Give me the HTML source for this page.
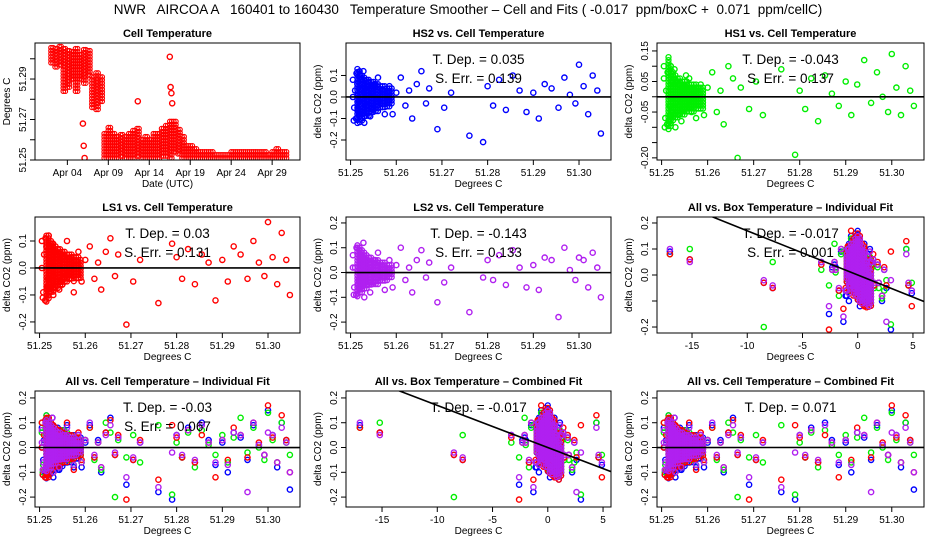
<!DOCTYPE html>
<html><head><meta charset="utf-8"><style>
html,body{margin:0;padding:0;background:#fff;}
svg{display:block;font-family:"Liberation Sans",sans-serif;}
</style></head><body>
<svg id="chart" width="936" height="540" viewBox="0 0 936 540" xmlns="http://www.w3.org/2000/svg">
<rect width="936" height="540" fill="#fff"/>
<text x="468" y="14" text-anchor="middle" font-size="13.5" xml:space="preserve">NWR   AIRCOA A   160401 to 160430   Temperature Smoother – Cell and Fits ( -0.017  ppm/boxC +  0.071  ppm/cellC)</text>
</svg>
<script>
// ---- Panel 1: cell temperature time series (half-day bins: min/max) ----
const binDay=[2,2.5,3,3.5,4,4.5,5,5.5,6,6.5,7,7.5,8,8.5,9,9.5,10,10.5,11,11.5,12,12.5,13,13.5,14,14.5,15,15.5,16,16.5,17,17.5,18,18.5,19,19.5,20,20.5,21,21.5,22,22.5,23,23.5,24,24.5,25,25.5,26,26.5,27,27.5,28,28.5,29,29.5,30,30.5];
const binMin=[51.298,51.296,51.297,51.284,51.286,51.290,51.284,51.290,51.288,51.292,51.276,51.275,51.279,51.251,51.251,51.251,51.251,51.252,51.251,51.251,51.251,51.252,51.251,51.251,51.251,51.251,51.251,51.252,51.252,51.251,51.254,51.253,51.251,51.251,51.251,51.251,51.251,51.251,51.251,51.251,51.251,51.251,51.251,51.251,51.251,51.251,51.251,51.251,51.251,51.251,51.251,51.251,51.251,51.251,51.251,51.251,51.251,51.251];
const binMax=[51.306,51.306,51.306,51.305,51.304,51.304,51.305,51.303,51.305,51.305,51.292,51.293,51.291,51.263,51.267,51.264,51.262,51.263,51.262,51.264,51.265,51.266,51.260,51.262,51.261,51.263,51.264,51.266,51.268,51.270,51.269,51.266,51.262,51.258,51.257,51.256,51.255,51.254,51.255,51.254,51.253,51.253,51.253,51.253,51.255,51.255,51.255,51.254,51.254,51.255,51.254,51.254,51.255,51.253,51.255,51.256,51.255,51.254];
const outDay=[5.9,6.0,6.1,12.6,16.5,16.6,16.7,16.8];
const outTemp=[51.268,51.257,51.251,51.279,51.301,51.286,51.283,51.278];
const dateTicks=[4,9,14,19,24,29];
const dateLabels=["Apr 04","Apr 09","Apr 14","Apr 19","Apr 24","Apr 29"];

// ---- dense cluster (binned ranges) vs cell temperature ----
const cBinX=[51.2515,51.2520,51.2525,51.2530,51.2535,51.2540,51.2545,51.2550,51.2555,51.2560,51.2565,51.2570,51.2575,51.2580,51.2585,51.2590];
const hs2Lo=[-0.13,-0.12,-0.11,-0.1,-0.09,-0.09,-0.08,-0.08,-0.07,-0.07,-0.06,-0.06,-0.05,-0.05,-0.05,-0.04];
const hs2Hi=[0.13,0.12,0.1,0.09,0.08,0.08,0.07,0.07,0.06,0.06,0.05,0.05,0.05,0.04,0.04,0.04];
const hs1Lo=[-0.11,-0.1,-0.08,-0.07,-0.07,-0.06,-0.06,-0.06,-0.05,-0.05,-0.05,-0.05,-0.04,-0.04,-0.04,-0.04];
const hs1Hi=[0.13,0.1,0.08,0.07,0.06,0.06,0.05,0.05,0.05,0.04,0.04,0.04,0.04,0.03,0.03,0.03];
const ls1Lo=[-0.13,-0.12,-0.1,-0.09,-0.08,-0.08,-0.07,-0.07,-0.06,-0.06,-0.05,-0.05,-0.05,-0.04,-0.04,-0.04];
const ls1Hi=[0.12,0.11,0.1,0.09,0.08,0.07,0.07,0.06,0.06,0.05,0.05,0.05,0.04,0.04,0.04,0.03];
const ls2Lo=[-0.1,-0.09,-0.08,-0.07,-0.07,-0.06,-0.06,-0.05,-0.05,-0.05,-0.04,-0.04,-0.04,-0.04,-0.03,-0.03];
const ls2Hi=[0.11,0.1,0.09,0.08,0.07,0.06,0.06,0.05,0.05,0.05,0.04,0.04,0.04,0.03,0.03,0.03];
// ---- dense cluster (binned ranges) vs box temperature ----
const bBinX=[-1,-0.8,-0.6,-0.4,-0.2,0,0.2,0.4,0.6,0.8,1,1.2];
const bHs2Lo=[-0.03,-0.05,-0.06,-0.07,-0.08,-0.1,-0.1,-0.11,-0.12,-0.12,-0.13,-0.12];
const bHs2Hi=[0.1,0.12,0.13,0.14,0.16,0.17,0.15,0.12,0.09,0.06,0.04,0.02];
const bHs1Lo=[-0.02,-0.04,-0.05,-0.06,-0.08,-0.09,-0.1,-0.1,-0.11,-0.12,-0.12,-0.11];
const bHs1Hi=[0.1,0.11,0.12,0.13,0.14,0.14,0.13,0.11,0.08,0.06,0.04,0.02];
const bLs1Lo=[-0.03,-0.05,-0.06,-0.08,-0.09,-0.1,-0.11,-0.12,-0.12,-0.13,-0.13,-0.12];
const bLs1Hi=[0.09,0.11,0.12,0.14,0.15,0.16,0.15,0.12,0.09,0.06,0.04,0.02];
const bLs2Lo=[-0.02,-0.04,-0.05,-0.06,-0.08,-0.09,-0.1,-0.11,-0.11,-0.12,-0.12,-0.11];
const bLs2Hi=[0.08,0.1,0.11,0.12,0.14,0.15,0.14,0.11,0.08,0.05,0.03,0.01];

// ---- sparse points ----
const cellT=[51.2505,51.2508,51.2510,51.2512,51.2515,51.2518,51.2520,51.2522,51.2525,51.2528,51.2530,51.2533,51.2536,51.2540,51.2543,51.2546,51.2550,51.2553,51.2556,51.2560,51.2565,51.2570,51.2575,51.2580,51.2507,51.2513,51.2519,51.2524,51.2531,51.2538,51.2545,51.2552,51.2559,51.2505,51.2516,51.2527,51.2541,
51.2585,51.2592,51.2600,51.2610,51.2620,51.2628,51.2635,51.2645,51.2655,51.2665,51.2672,51.2690,51.2705,51.2720,51.2760,51.2790,51.2800,51.2812,51.2825,51.2840,51.2855,51.2870,51.2885,51.2900,51.2912,51.2925,51.2940,51.2955,51.2968,51.2980,51.2992,51.3000,51.3010,51.3020,51.3030,51.3040,51.3048];
const boxT=[-0.5,0.3,-0.2,0.6,-0.8,0.1,0.4,-0.3,0.7,-0.6,0.2,-0.1,0.5,-0.4,0.8,0,-0.7,0.3,-0.2,0.6,-0.5,0.1,0.9,-0.3,0.4,-0.9,0.2,0.5,-0.1,0.7,-0.6,0.3,0,-0.4,0.6,-0.2,0.1,
1.2,-1.1,0.8,-17,1.5,-2.3,2.2,-15.2,0.6,-8.5,1.8,-2.6,-7.7,2.4,-1.3,3,-3.3,4.6,0.9,-1.7,1.1,-2,4.9,0.5,-0.8,1.4,-2.1,2.6,-1.5,0.7,1.9,-0.6,1.3,-1,4.4,0.4];
const hs2=[0.08,-0.05,0.03,-0.1,0.06,-0.02,0.1,-0.07,0.01,0.12,-0.12,0.04,-0.04,0.07,-0.09,0.02,-0.06,0.05,-0.01,0.09,-0.03,0.03,-0.08,0.0,-0.11,0.11,-0.08,0.08,-0.03,0.05,-0.05,0.06,-0.02,0.0,-0.06,0.04,0.01,
0.05,-0.08,0.02,0.09,-0.04,0.03,-0.1,0.06,0.12,-0.03,0.04,-0.15,-0.05,0.02,-0.18,-0.21,0.05,-0.04,0.08,-0.06,0.1,0.03,-0.07,0.02,-0.1,0.06,0.04,-0.05,0.09,0.01,-0.03,0.15,0.05,-0.08,0.1,0.03,-0.17];
const hs1=[0.06,-0.07,0.02,-0.09,0.08,-0.03,0.1,-0.05,0.0,0.09,-0.1,0.05,-0.06,0.04,-0.08,0.03,-0.04,0.07,-0.02,0.06,-0.05,0.02,-0.07,0.01,-0.1,0.08,-0.06,0.05,-0.02,0.04,-0.04,0.03,-0.01,0.1,-0.08,0.06,0.0,
0.04,-0.06,0.03,0.08,-0.05,0.02,-0.09,0.1,0.06,-0.2,0.03,-0.04,0.05,-0.06,0.09,-0.19,0.02,-0.04,0.06,-0.08,0.07,0.01,-0.03,0.05,-0.06,0.04,0.12,-0.02,0.08,0.0,-0.05,0.14,0.03,-0.06,0.1,0.02,-0.03];
const ls1=[0.1,-0.09,0.05,-0.12,0.08,-0.04,0.12,-0.07,0.02,0.09,-0.1,0.06,-0.05,0.07,-0.08,0.03,-0.06,0.05,-0.02,0.1,-0.04,0.04,-0.09,0.01,-0.11,0.11,-0.07,0.06,-0.03,0.05,-0.05,0.04,-0.01,0.0,-0.07,0.03,0.02,
0.06,-0.05,0.03,0.08,-0.04,0.02,-0.08,0.06,0.11,-0.03,0.05,-0.21,-0.05,0.03,-0.13,0.09,0.04,-0.04,0.07,-0.06,0.05,0.02,-0.12,0.03,-0.05,0.08,0.05,-0.04,0.1,0.02,-0.03,0.17,0.04,-0.06,0.13,0.03,-0.1];
const ls2=[0.07,-0.06,0.02,-0.09,0.1,-0.03,0.09,-0.05,0.01,0.12,-0.1,0.04,-0.05,0.06,-0.08,0.02,-0.04,0.05,-0.02,0.08,-0.03,0.03,-0.07,0.0,-0.09,0.1,-0.06,0.07,-0.02,0.05,-0.04,0.04,-0.01,0.02,-0.05,0.03,0.01,
0.05,-0.06,0.03,0.1,-0.03,0.02,-0.08,0.05,0.09,-0.02,0.04,-0.12,-0.04,0.02,-0.16,-0.02,0.05,-0.03,0.07,-0.05,0.09,0.02,-0.06,0.03,-0.07,0.06,0.05,-0.18,0.1,0.01,-0.03,0.06,0.05,-0.06,0.08,0.02,-0.1];
// ---- fits ----
const fitSlope=[0.035,-0.043,0.03,-0.143,-0.017,-0.03,-0.017,0.071];
const fitText=[["T. Dep. =  0.035","S. Err. =  0.139"],["T. Dep. =  -0.043","S. Err. =  0.137"],["T. Dep. =  0.03","S. Err. =  0.131"],["T. Dep. =  -0.143","S. Err. =  0.133"],["T. Dep. =  -0.017","S. Err. =  0.001"],["T. Dep. =  -0.03","S. Err. =  0.067"],["T. Dep. =  -0.017"],["T. Dep. =  0.071"]];
const cellTicks=[51.25,51.26,51.27,51.28,51.29,51.30];
const cellTickLabels=["51.25","51.26","51.27","51.28","51.29","51.30"];
const boxTicks=[-15,-10,-5,0,5];
const boxTickLabels=["-15","-10","-5","0","5"];

const NS="http://www.w3.org/2000/svg";
const svg=document.getElementById('chart');
function el(tag,attrs,parent){const e=document.createElementNS(NS,tag);for(const k in attrs)e.setAttribute(k,attrs[k]);(parent||svg).appendChild(e);return e;}
function txt(s,x,y,size,opts,parent){const t=el('text',Object.assign({x:x,y:y,'font-size':size,'text-anchor':'middle'},opts||{}),parent);t.textContent=s;return t;}

const cols=[[35,300],[346,611],[657,924]];
const rows=[[43,160],[217,333],[391,507]];
const COL={blue:'#0000ff',green:'#00ee00',red:'#ff0000',purple:'#b020f0'};

function makePanel(r,c,name,title,xd,yd){
  const [x0,x1]=cols[c],[y0,y1]=rows[r];
  const g=el('g',{});
  
  
  const sx=v=>x0+(v-xd[0])/(xd[1]-xd[0])*(x1-x0);
  const sy=v=>y1-(v-yd[0])/(yd[1]-yd[0])*(y1-y0);
  const clipId='clip'+r+c;
  const cp=el('clipPath',{id:clipId},g);el('rect',{x:x0,y:y0,width:x1-x0,height:y1-y0},cp);
  const plot=el('g',{'clip-path':'url(#'+clipId+')'},g);
  const t=txt(title,(x0+x1)/2,y0-6,11,{'font-weight':'bold'},g);
  
  
  return {g,plot,sx,sy,x0,x1,y0,y1};
}
function frame(p){
  const b=el('rect',{x:p.x0,y:p.y0,width:p.x1-p.x0,height:p.y1-p.y0,fill:'none',stroke:'#000','stroke-width':1},p.g);
  
  
}
function xAxis(p,ticks,labels,title){
  const ax=el('g',{},p.g);
  
  
  ticks.forEach((v,i)=>{const x=p.sx(v);el('line',{x1:x,x2:x,y1:p.y1,y2:p.y1+5,stroke:'#000'},ax);txt(labels[i],x,p.y1+16,10,{},ax);});
  const t=txt(title,(p.x0+p.x1)/2,p.y1+27,10,{},ax);
  
  
}
function yAxis(p,ticks,labels,title){
  const ax=el('g',{},p.g);
  
  
  ticks.forEach((v,i)=>{const y=p.sy(v);el('line',{x1:p.x0-5,x2:p.x0,y1:y,y2:y,stroke:'#000'},ax);
    if(labels[i])txt(labels[i],p.x0-9,y,10,{transform:'rotate(-90 '+(p.x0-9)+' '+y+')'},ax);});
  const yc=(p.y0+p.y1)/2;
  const t=txt(title,p.x0-25,yc,10,{transform:'rotate(-90 '+(p.x0-25)+' '+yc+')'},ax);
  
  
}
function scatter(p,xs,ys,color){
  const n=Math.min(xs.length,ys.length);
  for(let i=0;i<n;i++){
    const c=el('circle',{cx:p.sx(xs[i]).toFixed(1),cy:p.sy(ys[i]).toFixed(1),r:2.6,fill:'none',stroke:color,'stroke-width':1.4},p.plot);
    
    
  }
}
// dense cluster: stacked markers within each bin's [lo,hi] range
function cluster(p,bx,lo,hi,color){
  const n=Math.min(bx.length,lo.length,hi.length);
  for(let i=0;i<n;i++){
    const x=p.sx(bx[i]);
    const ya=p.sy(hi[i]),yb=p.sy(lo[i]);
    for(let y=ya;y<=yb+0.01;y+=3){
      const c=el('circle',{cx:x.toFixed(1),cy:y.toFixed(1),r:2.5,fill:'none',stroke:color,'stroke-width':1.3},p.plot);
      
      
    }
  }
}
function fit(p,slope,xc,xd){
  const l=el('line',{x1:p.sx(xd[0]),x2:p.sx(xd[1]),y1:p.sy(slope*(xd[0]-xc)),y2:p.sy(slope*(xd[1]-xc)),stroke:'#000','stroke-width':1.6},p.plot);
  
  
}
function stats(p,lines){
  lines.forEach((s,i)=>{const t=txt(s,(p.x0+p.x1)/2,p.y0+21+i*19,13.5,{'xml:space':'preserve'},p.g);
    
    });
}

// Panel 1
{
  const xd=[0.05,32.4],yd=[51.25,51.3078];
  const p=makePanel(0,0,'cell-temperature-panel','Cell Temperature',xd,yd);
  for(let i=0;i<binDay.length;i++){
    for(let dd=0;dd<0.5;dd+=0.25){
      for(let t=binMin[i];t<=binMax[i]+1e-9;t+=0.0015){
        const c=el('circle',{cx:p.sx(binDay[i]+dd).toFixed(1),cy:p.sy(t).toFixed(1),r:2.3,fill:'none',stroke:'#ff0000','stroke-width':1.1},p.plot);
        
        
      }
    }
  }
  scatter(p,outDay,outTemp,'#ff0000');
  frame(p);
  xAxis(p,dateTicks,dateLabels,'Date (UTC)');
  yAxis(p,[51.25,51.26,51.27,51.28,51.29,51.30],['51.25','','51.27','','51.29',''],'Degrees C');
}
const cellXD=[51.249,51.307];
const ccenter=51.25;
function cellPanel(r,c,name,title,yd,yt,yl,series,k){
  const p=makePanel(r,c,name,title,cellXD,yd);
  series.forEach(s=>{scatter(p,cellT,s[0],s[1]);cluster(p,cBinX,s[2],s[3],s[1]);});
  fit(p,fitSlope[k]*0.05,ccenter,cellXD);
  frame(p);
  xAxis(p,cellTicks,cellTickLabels,'Degrees C');
  yAxis(p,yt,yl,'delta CO2 (ppm)');
  stats(p,fitText[k]);
}
function boxPanel(r,c,name,title,xd,yd,yt,yl,k){
  const p=makePanel(r,c,name,title,xd,yd);
  [[hs2,COL.blue,bHs2Lo,bHs2Hi],[hs1,COL.green,bHs1Lo,bHs1Hi],[ls1,COL.red,bLs1Lo,bLs1Hi],[ls2,COL.purple,bLs2Lo,bLs2Hi]].forEach(s=>{scatter(p,boxT,s[0],s[1]);cluster(p,bBinX,s[2],s[3],s[1]);});
  fit(p,fitSlope[k],0,xd);
  frame(p);
  xAxis(p,boxTicks,boxTickLabels,'Degrees C');
  yAxis(p,yt,yl,'delta CO2 (ppm)');
  stats(p,fitText[k]);
}
const SHS2=[hs2,COL.blue,hs2Lo,hs2Hi],SHS1=[hs1,COL.green,hs1Lo,hs1Hi],SLS1=[ls1,COL.red,ls1Lo,ls1Hi],SLS2=[ls2,COL.purple,ls2Lo,ls2Hi];
const t5=[-0.2,-0.1,0,0.1,0.2],l5=['-0.2','-0.1','0.0','0.1','0.2'];
cellPanel(0,1,'hs2-panel','HS2 vs. Cell Temperature',[-0.293,0.251],[-0.2,-0.1,0,0.1],['-0.2','-0.1','0.0','0.1'],[SHS2],0);
cellPanel(0,2,'hs1-panel','HS1 vs. Cell Temperature',[-0.207,0.176],[-0.2,-0.15,-0.1,-0.05,0,0.05,0.1,0.15],['-0.20','','','-0.05','','0.05','','0.15'],[SHS1],1);
cellPanel(1,0,'ls1-panel','LS1 vs. Cell Temperature',[-0.241,0.189],[-0.2,-0.1,0,0.1],['-0.2','-0.1','0.0','0.1'],[SLS1],2);
cellPanel(1,1,'ls2-panel','LS2 vs. Cell Temperature',[-0.244,0.224],t5,l5,[SLS2],3);
boxPanel(1,2,'all-box-individual-panel','All vs. Box Temperature – Individual Fit',[-18.17,6.0],[-0.223,0.223],t5,['-0.2','','0.0','0.1','0.2'],4);
cellPanel(2,0,'all-cell-individual-panel','All vs. Cell Temperature – Individual Fit',[-0.24,0.228],t5,l5,[SHS2,SHS1,SLS1,SLS2],5);
boxPanel(2,1,'all-box-combined-panel','All vs. Box Temperature – Combined Fit',[-18.26,5.72],[-0.24,0.228],t5,l5,6);
cellPanel(2,2,'all-cell-combined-panel','All vs. Cell Temperature – Combined Fit',[-0.24,0.228],t5,l5,[SHS2,SHS1,SLS1,SLS2],7);
</script>
</body></html>
